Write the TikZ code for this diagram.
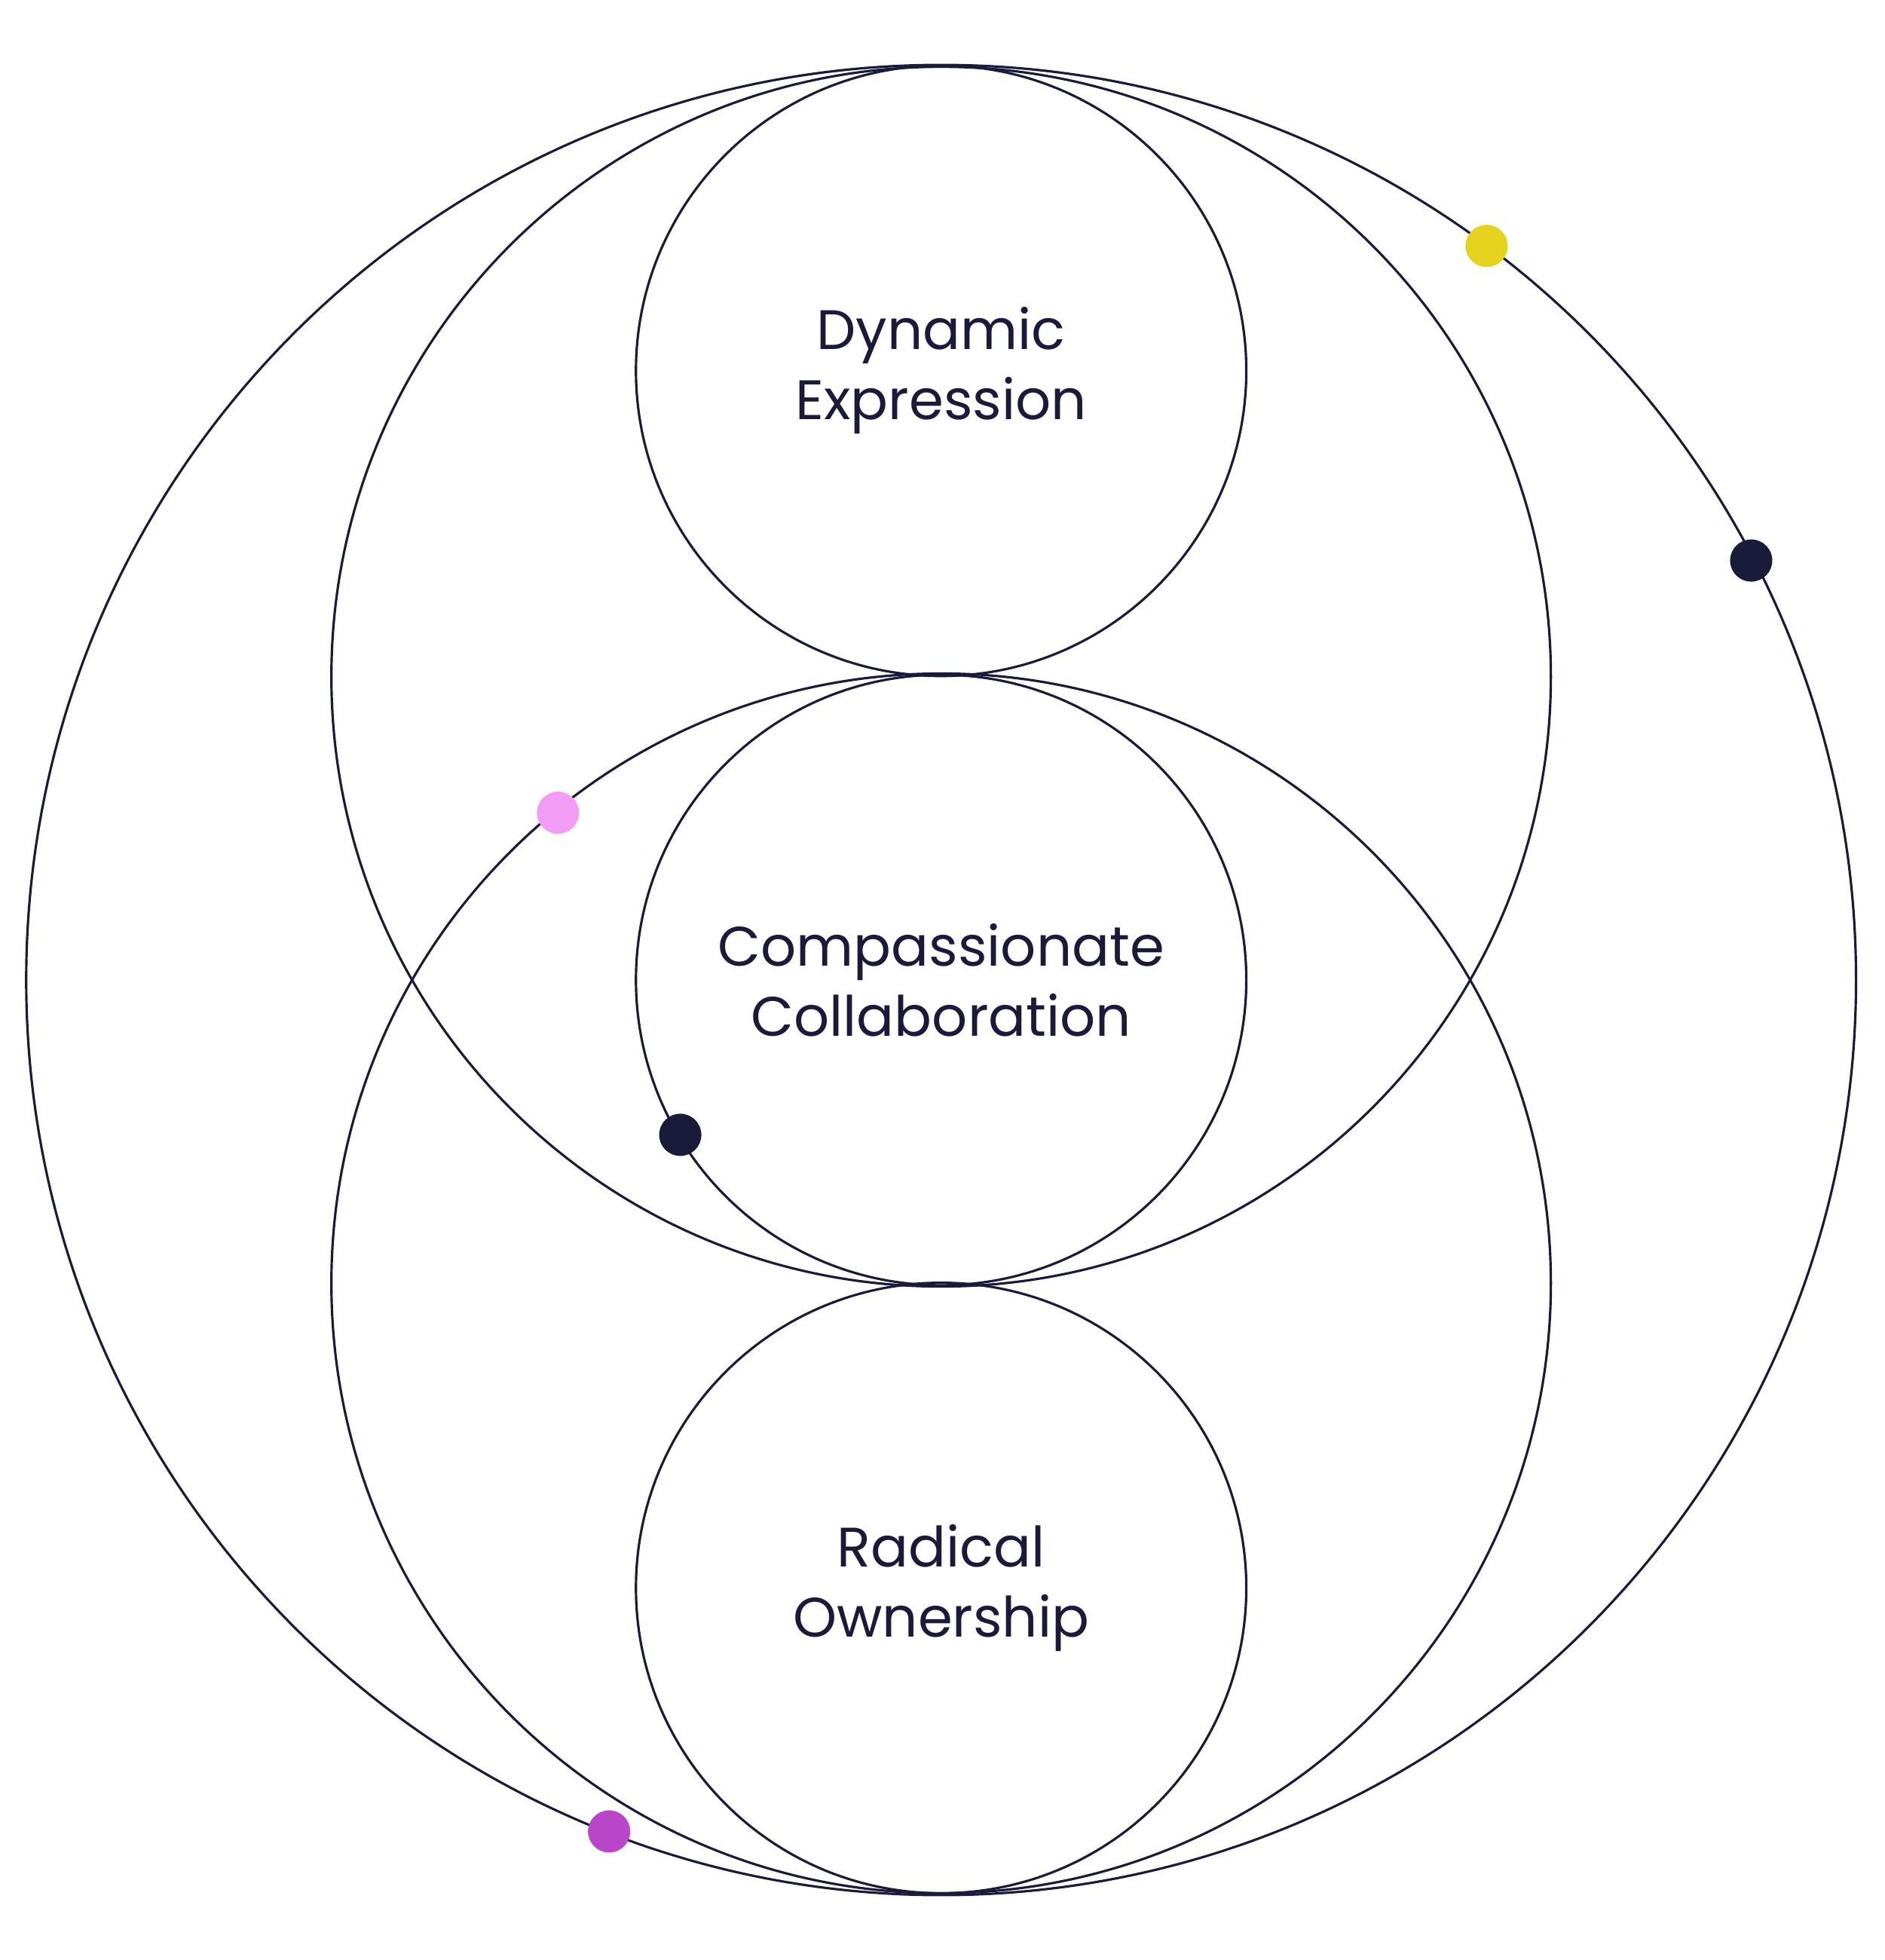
\documentclass[tikz,border=0pt]{standalone}
\usepackage{fontspec}
\setmainfont{Poppins}
\definecolor{ink}{HTML}{1A1B3A}
\definecolor{dotyellow}{HTML}{E5D21F}
\definecolor{dotpink}{HTML}{F39CF5}
\definecolor{dotpurple}{HTML}{B946C8}
\tikzset{
  ring/.style={draw=ink, line width=0.9pt, circle, inner sep=0pt},
  label/.style={text=ink, align=center, font=\fontsize{21}{26.5}\selectfont},
  dot/.style={fill=#1, draw=none, circle, inner sep=0pt, minimum size=0.56cm}
}
\begin{document}
\begin{tikzpicture}[x=0.016556cm, y=-0.016556cm]
  \useasboundingbox (0,0) rectangle (1510,1570);
  \fill[white] (0,0) rectangle (1510,1570);

  \node[ring, minimum size=1466*0.016556cm] (outer) at (754,785) {};
  \node[ring, minimum size=977*0.016556cm] (upper) at (754,542) {};
  \node[ring, minimum size=977*0.016556cm] (lower) at (754,1028) {};

  \node[ring, minimum size=489*0.016556cm] (expr) at (754,297) {};
  \node[ring, minimum size=489*0.016556cm] (collab) at (754,785) {};
  \node[ring, minimum size=489*0.016556cm] (owner) at (754,1272) {};

  \node[label] at (expr) {Dynamic\\Expression};
  \node[label] at (collab) {Compassionate\\Collaboration};
  \node[label] at (owner) {Radical\\Ownership};

  \node[dot=dotyellow] (d1) at (1191,197) {};
  \node[dot=ink] (d2) at (1403,449) {};
  \node[dot=dotpink] (d3) at (447,651) {};
  \node[dot=ink] (d4) at (545,909) {};
  \node[dot=dotpurple] (d5) at (488,1467) {};
\end{tikzpicture}
\end{document}
